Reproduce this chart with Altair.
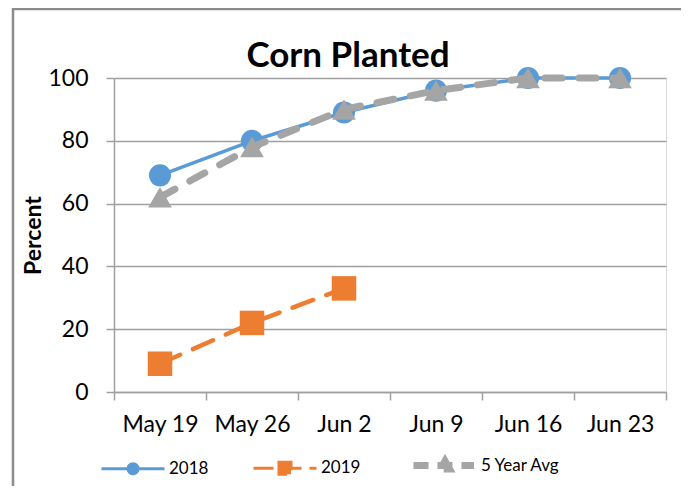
import altair as alt
import pandas as pd

weeks = ["May 19", "May 26", "Jun 2", "Jun 9", "Jun 16", "Jun 23"]
series_names = ["2018", "2019", "5 Year Avg"]
v2018 = [69, 80, 89, 96, 100, 100]
v2019 = [9, 22, 33]
vavg = [62, 78, 90, 96, 100, 100]
colors = ["#5B9BD5", "#ED7D31", "#A5A5A5"]

rows = []
for name, vals in zip(series_names, [v2018, v2019, vavg]):
    for i, v in enumerate(vals):
        rows.append({"week": weeks[i], "series": name, "value": v})
df = pd.DataFrame(rows)

FONT = "Lato"

sym_2018 = "M-3.15,0H3.15M0.5,0A0.5,0.5,0,1,1,-0.5,0A0.5,0.5,0,1,1,0.5,0Z"
sym_2019 = "M-3.15,0H3.15M-0.6,-0.6H0.6V0.6H-0.6Z"
sym_avg = "M-3.15,0H2.9M0,-0.45L0.45,0.35L-0.45,0.35Z"

legend = alt.Legend(
    title=None,
    orient="none",
    direction="horizontal",
    legendX=10.5,
    legendY=379,
    padding=0,
    symbolSize=400,
    labelFont=FONT,
    labelFontSize=17,
    labelColor="#000000",
    labelOffset=27.5,
    columnPadding=39,
    symbolOpacity=1,
    symbolType={"expr": f"datum.value == '2018' ? '{sym_2018}' : datum.value == '2019' ? '{sym_2019}' : '{sym_avg}'"},
    symbolDash={"expr": "datum.value == '2018' ? [1, 0] : datum.value == '2019' ? [20, 8] : [15, 9]"},
    symbolStrokeWidth={"expr": "datum.value == '5 Year Avg' ? 7 : 3"},
    symbolFillColor={"expr": "scale('color', datum.value)"},
    symbolStrokeColor={"expr": "scale('color', datum.value)"},
)

color = alt.Color(
    "series:N",
    scale=alt.Scale(domain=series_names, range=colors),
    legend=legend,
)

x = alt.X(
    "week:N",
    sort=weeks,
    scale=alt.Scale(domain=weeks, paddingInner=0, paddingOuter=0),
    axis=alt.Axis(
        title=None,
        labelAngle=0,
        labelFont=FONT,
        labelFontSize=23,
        labelColor="#000000",
        labelPadding=13,
        tickSize=8,
        tickBand="extent",
        tickColor="#A0A0A0",
        domainColor="#A0A0A0",
        tickWidth=1.5,
        domainWidth=1.5,
        grid=False,
    ),
)

y = alt.Y(
    "value:Q",
    scale=alt.Scale(domain=[0, 100], nice=False),
    axis=alt.Axis(
        title="Percent",
        titleFont=FONT,
        titleFontSize=23,
        titleFontWeight="bold",
        titleColor="#000000",
        titleX=-81,
        titleY=157,
        titleBaseline="middle",
        values=[0, 20, 40, 60, 80, 100],
        labelFont=FONT,
        labelFontSize=23,
        labelColor="#000000",
        labelPadding=18,
        tickSize=8,
        tickColor="#A0A0A0",
        domainColor="#A0A0A0",
        tickWidth=1.5,
        domainWidth=1.5,
        gridColor="#A0A0A0",
        gridWidth=1.5,
    ),
)

line_styles = {
    "2018": dict(strokeWidth=3.5, strokeCap="round"),
    "2019": dict(strokeWidth=4.5, strokeDash=[22, 14], strokeCap="round"),
    "5 Year Avg": dict(strokeWidth=7, strokeDash=[17, 17], strokeCap="round"),
}
point_styles = {
    "2018": dict(shape="circle", size=490),
    "2019": dict(shape="square", size=600),
    "5 Year Avg": dict(shape="triangle-up", size=560),
}

base = alt.Chart(df)
layers = []
for name in series_names:
    sel = base.transform_filter(alt.datum.series == name)
    layers.append(sel.mark_line(**line_styles[name]).encode(x=x, y=y, color=color))
    layers.append(
        sel.mark_point(filled=True, opacity=1, **point_styles[name]).encode(x=x, y=y, color=color)
    )

frame = alt.Chart(pd.DataFrame({"f": [0]})).mark_rect(
    fill=None, stroke="#8C8C8C", strokeWidth=2.5
).encode(
    x=alt.value(-101), x2=alt.value(571), y=alt.value(-69), y2=alt.value(440)
)

chart = alt.layer(frame, *layers).properties(
    width=552,
    height=314,
    title=alt.TitleParams(
        "Corn Planted",
        font=FONT,
        fontSize=35,
        fontWeight="bold",
        color="#000000",
        anchor="middle",
        dx=-42,
        offset=-94,
        baseline="alphabetic",
    ),
    autosize=alt.AutoSizeParams(type="none"),
    padding={"left": 106, "top": 70, "right": 15, "bottom": 94},
).configure_view(stroke=None).configure(background="#FFFFFF")

chart.save("out.html", embed_options={"renderer": "svg", "actions": False})
